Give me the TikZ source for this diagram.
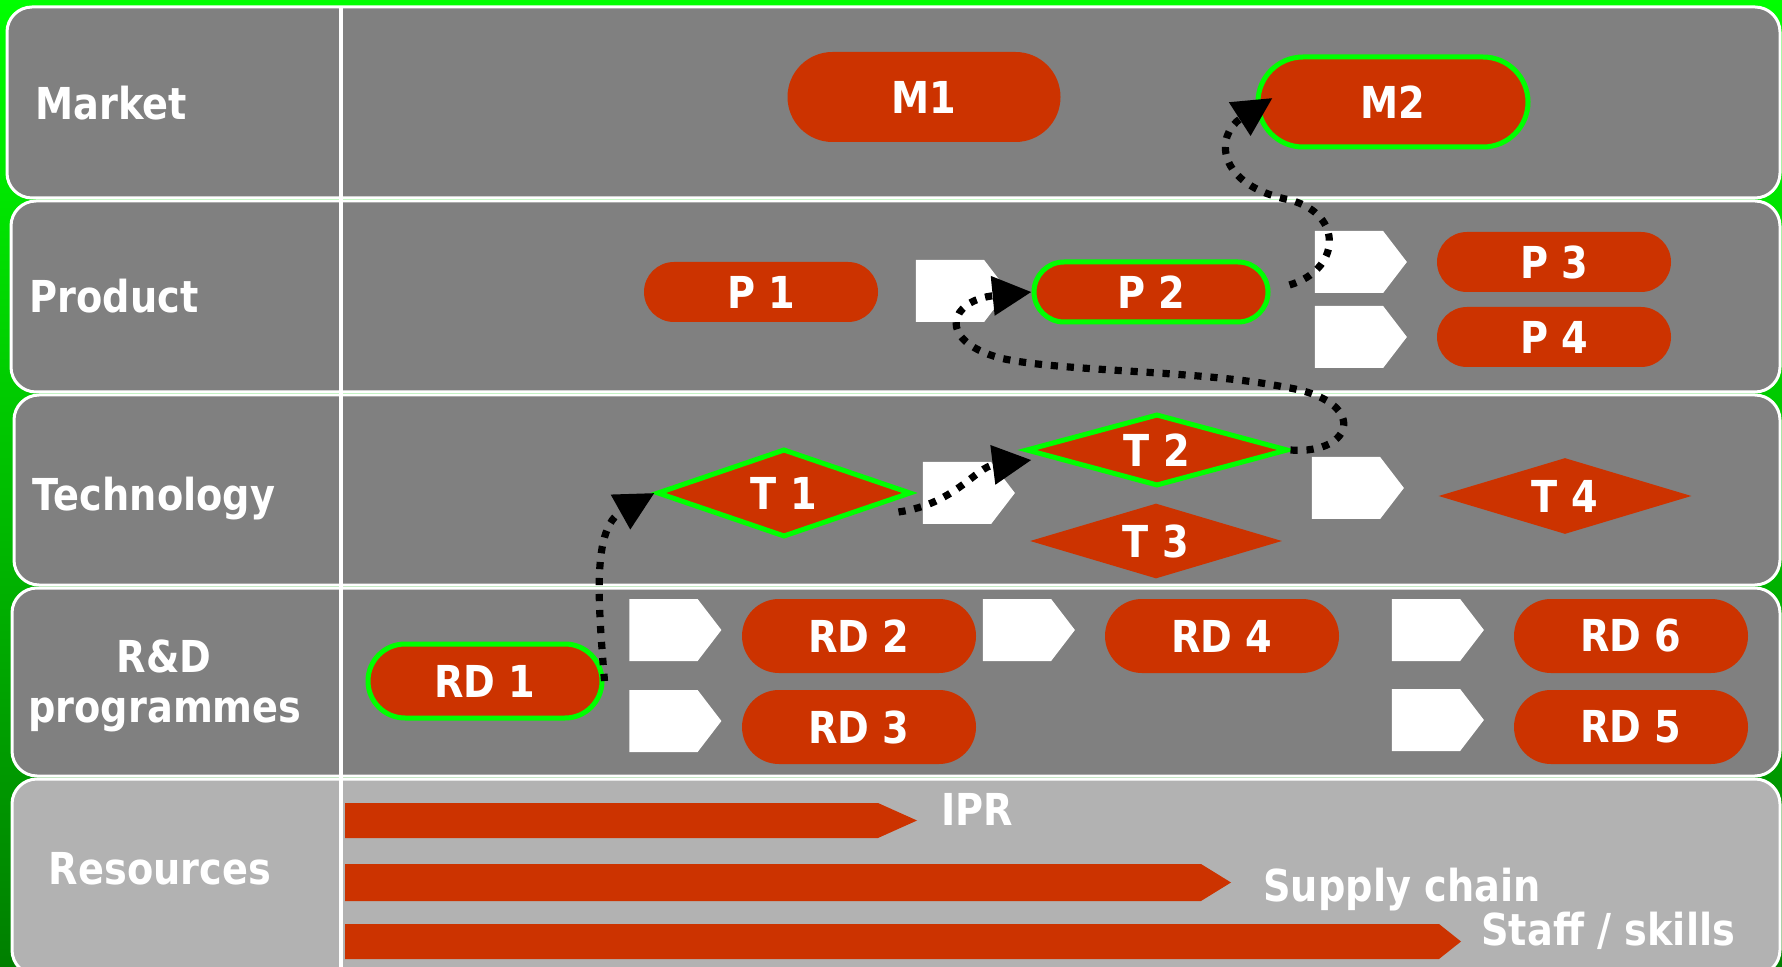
\documentclass[tikz,border=0pt]{standalone}
\usepackage{fontspec}
\setmainfont{DejaVu Sans}[FakeStretch=0.87]
\usetikzlibrary{shapes.misc,shapes.geometric,shapes.symbols,arrows.meta}
\definecolor{rd}{HTML}{CC3300}
\definecolor{gr}{HTML}{00FF00}
\definecolor{rowgray}{HTML}{808080}
\definecolor{resgray}{HTML}{B2B2B2}
\definecolor{dkgreen}{HTML}{007F00}
\begin{document}
\begin{tikzpicture}[x=0.5pt,y=-0.5pt,
  every node/.style={font=\bfseries\fontsize{22}{25}\selectfont, text=white, inner sep=0pt},
  rowbox/.style={draw=white, line width=1.5pt, rounded corners=12.5pt},
  capsule/.style={rounded rectangle, fill=rd, minimum width=117pt, minimum height=30pt},
  bigcap/.style={capsule, minimum width=135pt, minimum height=45pt},
  rdcap/.style={capsule, minimum height=37pt},
  gem/.style={diamond, aspect=3, fill=rd},
  hilite/.style={draw=gr, line width=2.5pt},
  pent/.style={signal, signal to=east, signal pointer angle=105, fill=white, minimum width=46pt, minimum height=31pt},
  bar/.style={fill=rd},
  conn/.style={draw=black, line width=3.6pt, dash pattern=on 3.6pt off 4.4pt, -{Triangle[length=19.5pt,width=19pt]}}
]
\useasboundingbox (0,0) rectangle (1782,967);
\shade[top color=gr, bottom color=dkgreen] (0,0) rectangle (1782,967);

% rows
\draw[rowbox, fill=rowgray] (7,7) rectangle (1780,198);
\draw[rowbox, fill=rowgray] (11,201) rectangle (1780,392);
\draw[rowbox, fill=rowgray] (14,395) rectangle (1780,585);
\draw[rowbox, fill=rowgray] (12,588) rectangle (1780,776);
\draw[rowbox, fill=resgray] (12,779) rectangle (1780,975);
\draw[white, line width=2pt] (341,7) -- (341,967);

% row labels
\node[anchor=base] (lmarket) at (111,120) {Market};
\node[anchor=base] (lproduct) at (114,313) {Product};
\node[anchor=base] (ltech) at (154,510) {Technology};
\node[anchor=base] (lrd) at (164,672) {R\&D};
\node[anchor=base] (lprog) at (165,722) {programmes};
\node[anchor=base] (lres) at (160,884) {Resources};

% resource bars
\fill[bar] (345,803) -- (878,803) -- (917,820.5) -- (878,838) -- (345,838) -- cycle;
\fill[bar] (345,864) -- (1201,864) -- (1231,882.5) -- (1201,901) -- (345,901) -- cycle;
\fill[bar] (345,924) -- (1439,924) -- (1461,941.5) -- (1439,959) -- (345,959) -- cycle;
\node[anchor=base west] (ipr) at (941,825) {IPR};
\node[anchor=base west] (supply) at (1263,901) {Supply chain};
\node[anchor=base west] (staff) at (1481,945) {Staff / skills};

% white pentagons
\node[pent] (g1) at (950,291) {};
\node[pent] (g2) at (1349,262) {};
\node[pent] (g3) at (1349,337) {};
\node[pent] (g4) at (957,493) {};
\node[pent] (g5) at (1346,488) {};
\node[pent] (g6) at (663.5,630) {};
\node[pent] (g7) at (663.5,721) {};
\node[pent] (g8) at (1017,630) {};
\node[pent] (g9) at (1426,630) {};
\node[pent] (g10) at (1426,720) {};

% market
\node[bigcap, minimum width=136.5pt] (M1) at (924,97) {M1};
\node[bigcap, hilite] (M2) at (1393,102) {M2};
% product
\node[capsule] (P1) at (761,292) {P 1};
\node[capsule, hilite] (P2) at (1151,292) {P 2};
\node[capsule] (P3) at (1554,262) {P 3};
\node[capsule] (P4) at (1554,337) {P 4};
% technology
\node[gem, hilite, minimum width=127pt, minimum height=44pt] (T1) at (784,493) {T 1};
\node[gem, hilite, minimum width=131pt, minimum height=36pt] (T2) at (1157,450) {T 2};
\node[gem, minimum width=126pt, minimum height=37.5pt] (T3) at (1156,541) {T 3};
\node[gem, minimum width=126.5pt, minimum height=38pt] (T4) at (1565,496) {T 4};
% R&D
\node[rdcap, hilite] (RD1) at (485,681) {RD 1};
\node[rdcap] (RD2) at (859,636) {RD 2};
\node[rdcap] (RD3) at (859,727) {RD 3};
\node[rdcap] (RD4) at (1222,636) {RD 4};
\node[rdcap] (RD6) at (1631,636) {RD 6};
\node[rdcap] (RD5) at (1631,727) {RD 5};

% connectors
\draw[conn] (RD1.east) .. controls (598,600) and (592,528) .. (T1.west);
\draw[conn] ([shift={(-15,19)}]T1.east) .. controls (955,504) and (976,467) .. ([shift={(8,10)}]T2.west);
\draw[conn] (T2.east) .. controls (1355,455) and (1370,400) .. (1284,387)
  .. controls (1200,370) and (1060,372) .. (1000,358)
  .. controls (935,340) and (950,300) .. (P2.west);
\draw[conn] ([shift={(19,-7)}]P2.east) .. controls (1340,270) and (1345,215) .. (1290,200)
  .. controls (1215,185) and (1215,135) .. ([shift={(17,-4)}]M2.west);
\end{tikzpicture}
\end{document}
